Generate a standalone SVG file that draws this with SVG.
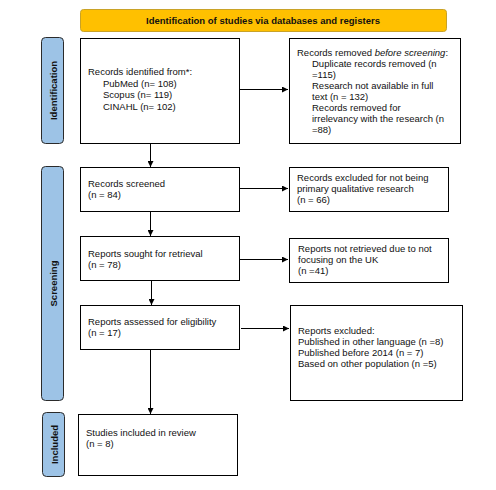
<svg xmlns="http://www.w3.org/2000/svg" width="496" height="490" viewBox="0 0 496 490">
<defs>
<marker id="ah" viewBox="0 0 6 6" refX="6" refY="3" markerWidth="6" markerHeight="6" markerUnits="userSpaceOnUse" orient="auto">
<path d="M0,0 L6,3 L0,6 Z" fill="#000"/>
</marker>
</defs>
<style>
.box{fill:#fff;stroke:#000;stroke-width:1}
.bar{fill:#9dc3e6;stroke:#2b2b2b;stroke-width:1}
.t{font-family:"Liberation Sans",Arial,sans-serif;font-size:9.5px;fill:#111}
.bt{font-family:"Liberation Sans",Arial,sans-serif;font-size:9.5px;font-weight:bold;fill:#111}
.c{stroke:#000;stroke-width:1;fill:none;marker-end:url(#ah)}
</style>
<rect width="496" height="490" fill="#fff"/>
<g id="header">
<rect x="80.5" y="9.5" width="366" height="22" rx="3" fill="#ffc000" stroke="#c9a227"/>
<text class="bt" x="263" y="23.5" text-anchor="middle">Identification of studies via databases and registers</text>
</g>
<g id="bar-identification">
<rect class="bar" x="41.5" y="37.5" width="22" height="106" rx="4"/>
<text class="bt" transform="translate(56.5,90.5) rotate(-90)" text-anchor="middle">Identification</text>
</g>
<g id="bar-screening">
<rect class="bar" x="41.5" y="166.5" width="22" height="234" rx="4"/>
<text class="bt" transform="translate(56.5,283.5) rotate(-90)" text-anchor="middle">Screening</text>
</g>
<g id="bar-included">
<rect class="bar" x="42.5" y="412.5" width="22" height="64" rx="4"/>
<text class="bt" transform="translate(57.5,444.5) rotate(-90)" text-anchor="middle">Included</text>
</g>
<g id="n-identified">
<rect class="box" x="80.5" y="38.5" width="159" height="105"/>
<text class="t" x="88" y="75">Records identified from*:</text>
<text class="t" x="103" y="86.5">PubMed (n= 108)</text>
<text class="t" x="103" y="98">Scopus (n= 119)</text>
<text class="t" x="103" y="109.5">CINAHL (n= 102)</text>
</g>
<g id="n-removed">
<rect class="box" x="289.5" y="38.5" width="171" height="105"/>
<text class="t" x="297" y="55.5">Records removed <tspan font-style="italic">before screening</tspan>:</text>
<text class="t" x="312" y="66.5">Duplicate records removed (n</text>
<text class="t" x="312" y="77.5">=115)</text>
<text class="t" x="312" y="88.5">Research not available in full</text>
<text class="t" x="312" y="99.5">text (n = 132)</text>
<text class="t" x="312" y="110.5">Records removed for</text>
<text class="t" x="312" y="121.5">irrelevancy with the research (n</text>
<text class="t" x="312" y="132.5">=88)</text>
</g>
<g id="n-screened">
<rect class="box" x="80.5" y="167.5" width="159" height="44"/>
<text class="t" x="88" y="187">Records screened</text>
<text class="t" x="88" y="198">(n = 84)</text>
</g>
<g id="n-excluded">
<rect class="box" x="289.5" y="167.5" width="159" height="44"/>
<text class="t" x="297" y="181">Records excluded for not being</text>
<text class="t" x="297" y="192">primary qualitative research</text>
<text class="t" x="297" y="203">(n = 66)</text>
</g>
<g id="n-sought">
<rect class="box" x="80.5" y="236.5" width="159" height="44"/>
<text class="t" x="88" y="257">Reports sought for retrieval</text>
<text class="t" x="88" y="268">(n = 78)</text>
</g>
<g id="n-notretrieved">
<rect class="box" x="289.5" y="238.5" width="159" height="44"/>
<text class="t" x="298" y="252">Reports not retrieved due to not</text>
<text class="t" x="298" y="263">focusing on the UK</text>
<text class="t" x="298" y="274">(n =41)</text>
</g>
<g id="n-assessed">
<rect class="box" x="80.5" y="305.5" width="159" height="44"/>
<text class="t" x="88" y="325">Reports assessed for eligibility</text>
<text class="t" x="88" y="336">(n = 17)</text>
</g>
<g id="n-reportsexcluded">
<rect class="box" x="290.5" y="305.5" width="172" height="95"/>
<text class="t" x="298" y="334">Reports excluded:</text>
<text class="t" x="298" y="345">Published in other language (n =8)</text>
<text class="t" x="298" y="356">Published before 2014 (n = 7)</text>
<text class="t" x="298" y="366.5">Based on other population (n =5)</text>
</g>
<g id="n-included">
<rect class="box" x="78.5" y="414.5" width="159" height="61"/>
<text class="t" x="86" y="436">Studies included in review</text>
<text class="t" x="86" y="447">(n = 8)</text>
</g>
<g id="connectors">
<path class="c" d="M240,89.5 H288"/>
<path class="c" d="M150.5,144 V167"/>
<path class="c" d="M240,188.5 H288"/>
<path class="c" d="M150.5,212 V236"/>
<path class="c" d="M240,259.5 H288"/>
<path class="c" d="M151.5,281 V305"/>
<path class="c" d="M241,328.5 H289"/>
<path class="c" d="M150.5,350 V414"/>
</g>
</svg>
